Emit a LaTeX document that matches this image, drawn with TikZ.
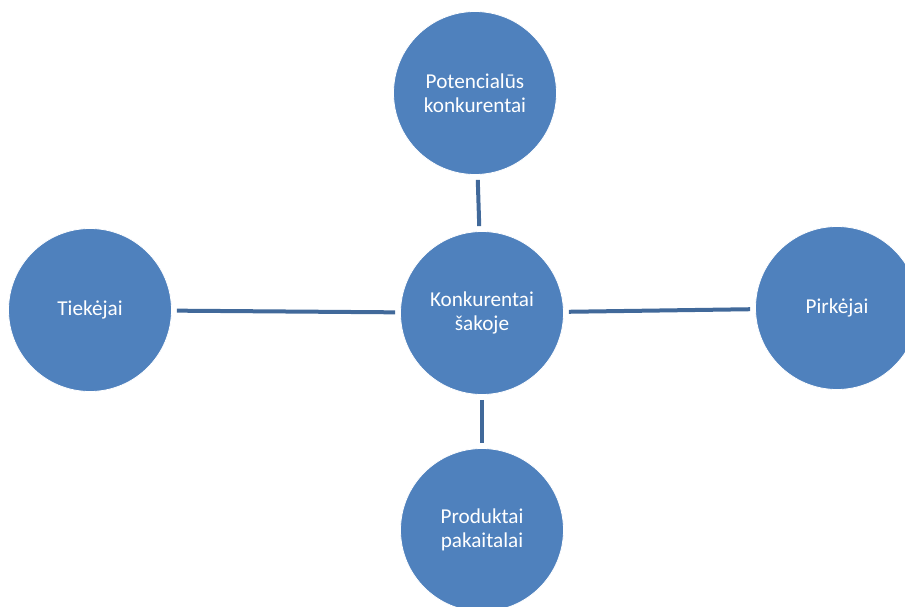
\documentclass[tikz,border=0pt]{standalone}
\usepackage{fontspec}
\setmainfont{Carlito}
\definecolor{ballblue}{HTML}{4F81BD}
\definecolor{stickblue}{HTML}{41699A}
\tikzset{
	ball/.style={circle, fill=ballblue, draw=white, line width=0.8pt, minimum size=163pt, inner sep=0pt,
		text=white, align=center, font=\fontsize{21.2}{23.5}\selectfont},
	stick/.style={draw=stickblue, line width=4pt, shorten >=5pt, shorten <=5pt}
}

\begin{document}
\begin{tikzpicture}[x=1pt, y=-1pt]
			%%%%% START %%%%%
			
			\useasboundingbox (0, 0) rectangle (905, 607);
			
			\node[ball] (branch) at (482, 313) {Konkurentai\\šakoje};
			\node[ball] (newcomers) at (475, 93) {Potencialūs\\konkurentai};
			\node[ball] (suppliers) at (90, 310) {Tiekėjai};
			\node[ball] (buyers) at (837, 308) {Pirkėjai};
			\node[ball] (substitutes) at (482, 530) {Produktai\\pakaitalai};
			
			\draw[stick] (newcomers) -- (branch);
			\draw[stick] (suppliers) -- (branch);
			\draw[stick] (branch) -- (buyers);
			\draw[stick] (branch) -- (substitutes);
			
			%%%%% END %%%%%
		\end{tikzpicture}
\end{document}
